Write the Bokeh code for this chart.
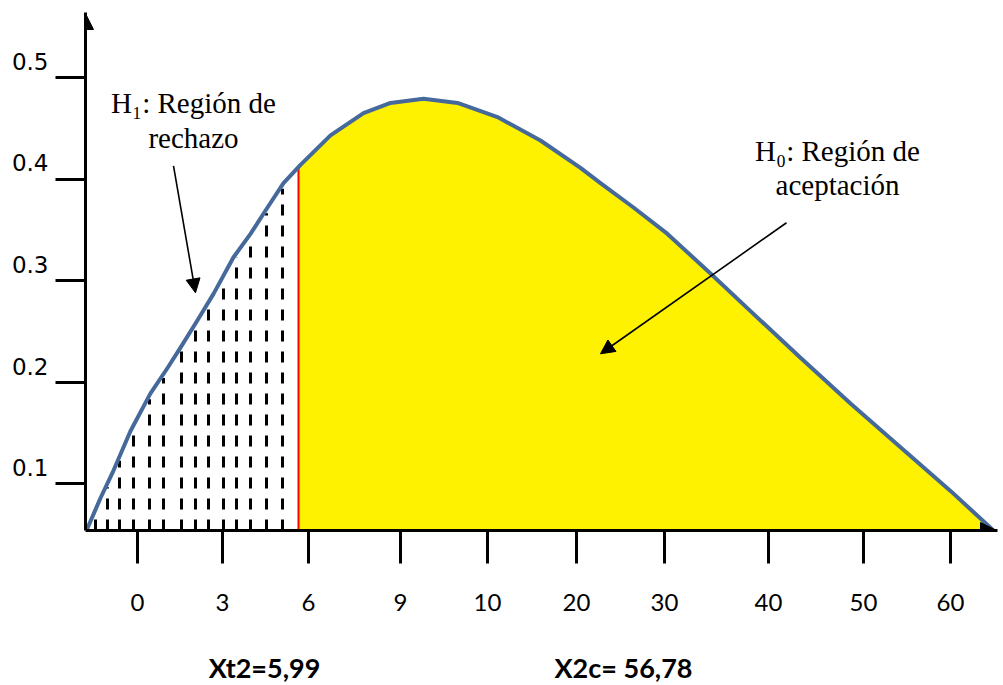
from bokeh.plotting import figure
from bokeh.models import (Range1d, FixedTicker, Arrow, NormalHead, Label, LinearAxis)
from bokeh.embed import file_html
from bokeh.resources import INLINE
import numpy as np

# ---- data (x = position along the drawn axis) ----
curve_x = [1, 15, 28, 45, 65, 82, 95, 112, 128, 148, 165, 182, 198, 215, 245, 278,
           305, 338, 372, 412, 455, 495, 515, 548, 582, 625, 665, 715, 765, 815,
           865, 908]
curve_y = [0.054, 0.086, 0.113, 0.152, 0.189, 0.214, 0.234, 0.261, 0.287, 0.323,
           0.346, 0.372, 0.396, 0.414, 0.443, 0.465, 0.475, 0.479, 0.475, 0.461,
           0.438, 0.411, 0.396, 0.372, 0.346, 0.307, 0.270, 0.224, 0.179, 0.136,
           0.093, 0.054]
baseline = 0.054
y_top = 0.564
critical_x = 213          # Xt2 = 5,99
hatch_x = [10, 22, 34, 48, 64, 78, 96, 110, 123, 138, 151, 165, 181, 197]

x_tick_pos = [52, 137, 223, 315, 402, 491, 579, 683, 778, 865]
x_tick_labels = ["0", "3", "6", "9", "10", "20", "30", "40", "50", "60"]
y_ticks = [0.1, 0.2, 0.3, 0.4, 0.5]
y_tick_labels = ["0.1", "0.2", "0.3", "0.4", "0.5"]

h1_text = ["H\u2081: Región de", "rechazo"]
h1_text_x = 108
h1_text_y = [0.475, 0.440]
h1_arrow = (88, 0.413, 110, 0.288)
h0_text = ["H\u2080: Región de", "aceptación"]
h0_text_x = 752
h0_text_y = [0.428, 0.394]
h0_arrow = (701, 0.357, 515, 0.228)
bottom_labels = ["Xt2=5,99", "X2c= 56,78"]
bottom_x = [179, 538]

BLUE = "#44699A"
YELLOW = "#FFF200"

p = figure(output_backend="svg", toolbar_location=None,
           frame_width=912, frame_height=518,
           min_border_left=85, min_border_right=3, min_border_top=12,
           min_border_bottom=150,
           x_range=Range1d(0, 912), y_range=Range1d(baseline, y_top))
p.outline_line_color = None
p.xgrid.grid_line_color = None
p.ygrid.grid_line_color = None
p.background_fill_color = "white"
p.border_fill_color = "white"

# axes styling
xa = p.xaxis[0]
xa.ticker = FixedTicker(ticks=x_tick_pos)
xa.major_label_overrides = {v: l for v, l in zip(x_tick_pos, x_tick_labels)}
xa.axis_line_width = 3
xa.major_tick_line_width = 3
xa.major_tick_out = 33
xa.major_tick_in = 0
xa.minor_tick_line_color = None
xa.major_label_standoff = 30
xa.major_label_text_font = "Lato"
xa.major_label_text_font_size = "24px"
xa.major_label_text_color = "black"

ya = p.yaxis[0]
ya.ticker = FixedTicker(ticks=y_ticks)
ya.major_label_overrides = {v: l + "\n\u00a0" for v, l in zip(y_ticks, y_tick_labels)}
ya.axis_line_width = 3
ya.major_tick_line_width = 3
ya.major_tick_out = 30
ya.major_tick_in = 0
ya.minor_tick_line_color = None
ya.major_label_standoff = 7
ya.major_label_text_font = "DejaVu Sans"
ya.major_label_text_font_size = "23px"
ya.major_label_text_color = "black"

# second row below the axis: the two statistic values
xb = LinearAxis(ticker=FixedTicker(ticks=bottom_x),
                major_label_overrides={v: l for v, l in zip(bottom_x, bottom_labels)})
xb.axis_line_color = None
xb.major_tick_line_color = None
xb.minor_tick_line_color = None
xb.major_tick_out = 0
xb.major_tick_in = 0
xb.major_label_standoff = 37
xb.major_label_text_font = "Lato"
xb.major_label_text_font_style = "bold"
xb.major_label_text_font_size = "27px"
xb.major_label_text_color = "black"
p.add_layout(xb, "below")

# acceptance region fill
cx = np.array(curve_x, dtype=float)
cy = np.array(curve_y, dtype=float)
crit_y = float(np.interp(critical_x, cx, cy))
mask = cx > critical_x
fill_x = np.concatenate([[critical_x], cx[mask]])
fill_y = np.concatenate([[crit_y], cy[mask]])
p.varea(x=fill_x, y1=baseline, y2=fill_y, fill_color=YELLOW)

# hatch (rejection region)
hatch_top = np.interp(hatch_x, cx, cy) - 0.004
p.segment(x0=hatch_x, y0=[baseline] * len(hatch_x), x1=hatch_x, y1=hatch_top,
          line_color="black", line_width=3, line_dash="11 10")

# critical value line
p.segment(x0=[critical_x], y0=[baseline], x1=[critical_x], y1=[crit_y],
          line_color="#FF0000", line_width=2)

# curve
p.line(cx, cy, line_color=BLUE, line_width=4, line_join="round")

# axis arrow heads
p.add_layout(Arrow(end=NormalHead(size=16, fill_color="black", line_color="black"),
                   x_start=0, y_start=0.5, x_end=0, y_end=y_top - 0.001,
                   line_width=3, line_color="black"))
p.add_layout(Arrow(end=NormalHead(size=16, fill_color="black", line_color="black"),
                   x_start=850, y_start=baseline, x_end=911, y_end=baseline,
                   line_width=3, line_color="black"))

# annotation arrows
for (xs, ys, xe, ye) in [h1_arrow, h0_arrow]:
    p.add_layout(Arrow(end=NormalHead(size=14, fill_color="black", line_color="black"),
                       x_start=xs, y_start=ys, x_end=xe, y_end=ye,
                       line_width=1.6, line_color="black"))

for txt, ty in zip(h1_text, h1_text_y):
    p.add_layout(Label(x=h1_text_x, y=ty, text=txt, text_align="center",
                       text_baseline="middle", text_font="Liberation Serif",
                       text_font_size="29px", text_color="black"))
for txt, ty in zip(h0_text, h0_text_y):
    p.add_layout(Label(x=h0_text_x, y=ty, text=txt, text_align="center",
                       text_baseline="middle", text_font="Liberation Serif",
                       text_font_size="29px", text_color="black"))

open("out.html", "w").write(file_html(p, INLINE))
